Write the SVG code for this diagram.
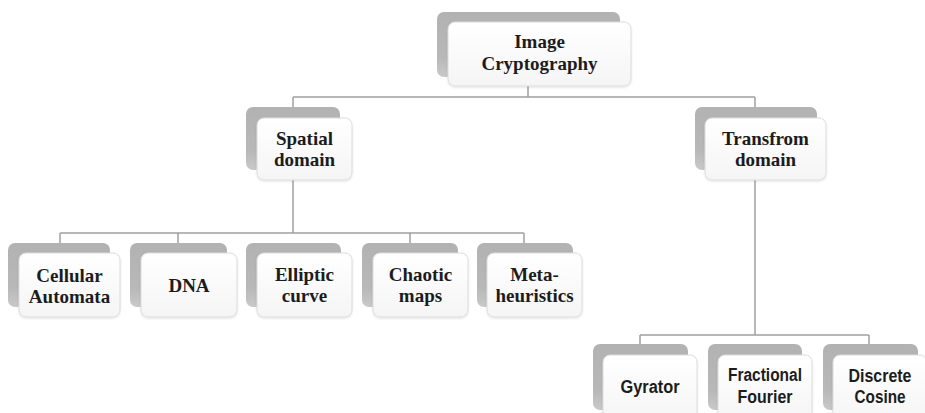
<svg xmlns="http://www.w3.org/2000/svg" width="925" height="413" viewBox="0 0 925 413">
  <defs>
    <linearGradient id="backFill" x1="0" y1="0" x2="0" y2="1">
      <stop offset="0" stop-color="#b2b2b2"/>
      <stop offset="0.7" stop-color="#b8b8b8"/>
      <stop offset="1" stop-color="#c9c9c9"/>
    </linearGradient>
    <linearGradient id="frontFill" x1="0" y1="0" x2="0" y2="1">
      <stop offset="0" stop-color="#ffffff"/>
      <stop offset="1" stop-color="#f5f5f5"/>
    </linearGradient>
    <filter id="soft" x="-10%" y="-10%" width="120%" height="130%">
      <feDropShadow dx="0" dy="1" stdDeviation="1.2" flood-color="#000" flood-opacity="0.12"/>
    </filter>
  </defs>
  <style>
    .back { fill: url(#backFill); }
    .front { fill: url(#frontFill); stroke: #dcdcdc; stroke-width: 1; filter: url(#soft); }
    .link { fill: none; stroke: #a0a0a0; stroke-width: 1.5; }
    .serif { font-family: "Liberation Serif", "Times New Roman", serif; font-weight: bold; font-size: 19px; fill: #1c1c1c; text-anchor: middle; }
    .sans { font-family: "Liberation Sans", Arial, sans-serif; font-weight: bold; font-size: 18px; fill: #1c1c1c; text-anchor: middle; }
  </style>

  <!-- connectors -->
  <g id="connectors">
    <path class="link" d="M528 86 V97 M293 97 H755 M293 97 V233 M755 97 V335"/>
    <path class="link" d="M60 233 H524 M60 233 V243 M178 233 V243 M410 233 V243 M524 233 V243"/>
    <path class="link" d="M640 335 H869 M640 335 V344 M869 335 V344"/>
  </g>

  <!-- root -->
  <g id="image-cryptography">
    <rect class="back" x="437" y="12" width="183" height="65" rx="7"/>
    <rect class="front" x="448" y="22" width="183" height="64" rx="7"/>
    <text class="serif" x="539.5" y="48">Image</text>
    <text class="serif" x="539.5" y="70">Cryptography</text>
  </g>

  <!-- second level -->
  <g id="spatial-domain">
    <rect class="back" x="246" y="107" width="94" height="63" rx="7"/>
    <rect class="front" x="257" y="118" width="95" height="62" rx="7"/>
    <text class="serif" x="304.5" y="145">Spatial</text>
    <text class="serif" x="304.5" y="166">domain</text>
  </g>

  <g id="transform-domain">
    <rect class="back" x="695" y="107" width="122" height="63" rx="7"/>
    <rect class="front" x="705" y="118" width="121" height="62" rx="7"/>
    <text class="serif" x="765.5" y="145">Transfrom</text>
    <text class="serif" x="765.5" y="166">domain</text>
  </g>

  <!-- spatial techniques -->
  <g id="cellular-automata">
    <rect class="back" x="8" y="243" width="102" height="64" rx="7"/>
    <rect class="front" x="19" y="253" width="101" height="64" rx="7"/>
    <text class="serif" x="69.5" y="282">Cellular</text>
    <text class="serif" x="69.5" y="303">Automata</text>
  </g>

  <g id="dna">
    <rect class="back" x="130" y="243" width="97" height="64" rx="7"/>
    <rect class="front" x="141" y="253" width="96" height="64" rx="7"/>
    <text class="serif" x="189" y="292">DNA</text>
  </g>

  <g id="elliptic-curve">
    <rect class="back" x="246" y="243" width="95" height="64" rx="7"/>
    <rect class="front" x="257" y="253" width="95" height="64" rx="7"/>
    <text class="serif" x="304.5" y="281">Elliptic</text>
    <text class="serif" x="304.5" y="302">curve</text>
  </g>

  <g id="chaotic-maps">
    <rect class="back" x="362" y="243" width="96" height="64" rx="7"/>
    <rect class="front" x="373" y="253" width="95" height="64" rx="7"/>
    <text class="serif" x="420.5" y="281">Chaotic</text>
    <text class="serif" x="420.5" y="302">maps</text>
  </g>

  <g id="meta-heuristics">
    <rect class="back" x="477" y="243" width="96" height="64" rx="7"/>
    <rect class="front" x="487" y="253" width="95" height="64" rx="7"/>
    <text class="serif" x="534.5" y="281">Meta-</text>
    <text class="serif" x="534.5" y="302">heuristics</text>
  </g>

  <!-- transform techniques -->
  <g id="gyrator">
    <rect class="back" x="593" y="344" width="95" height="66" rx="7"/>
    <rect class="front" x="603" y="355" width="94" height="66" rx="7"/>
    <text class="sans" x="650" y="393" textLength="59" lengthAdjust="spacingAndGlyphs">Gyrator</text>
  </g>

  <g id="fractional-fourier">
    <rect class="back" x="708" y="344" width="94" height="66" rx="7"/>
    <rect class="front" x="718" y="355" width="94" height="66" rx="7"/>
    <text class="sans" x="765" y="381" textLength="74" lengthAdjust="spacingAndGlyphs">Fractional</text>
    <text class="sans" x="765" y="403" textLength="55" lengthAdjust="spacingAndGlyphs">Fourier</text>
  </g>

  <g id="discrete-cosine">
    <rect class="back" x="823" y="344" width="95" height="66" rx="7"/>
    <rect class="front" x="833" y="355" width="94" height="66" rx="7"/>
    <text class="sans" x="880" y="382" textLength="63" lengthAdjust="spacingAndGlyphs">Discrete</text>
    <text class="sans" x="880" y="403" textLength="51" lengthAdjust="spacingAndGlyphs">Cosine</text>
  </g>
</svg>
